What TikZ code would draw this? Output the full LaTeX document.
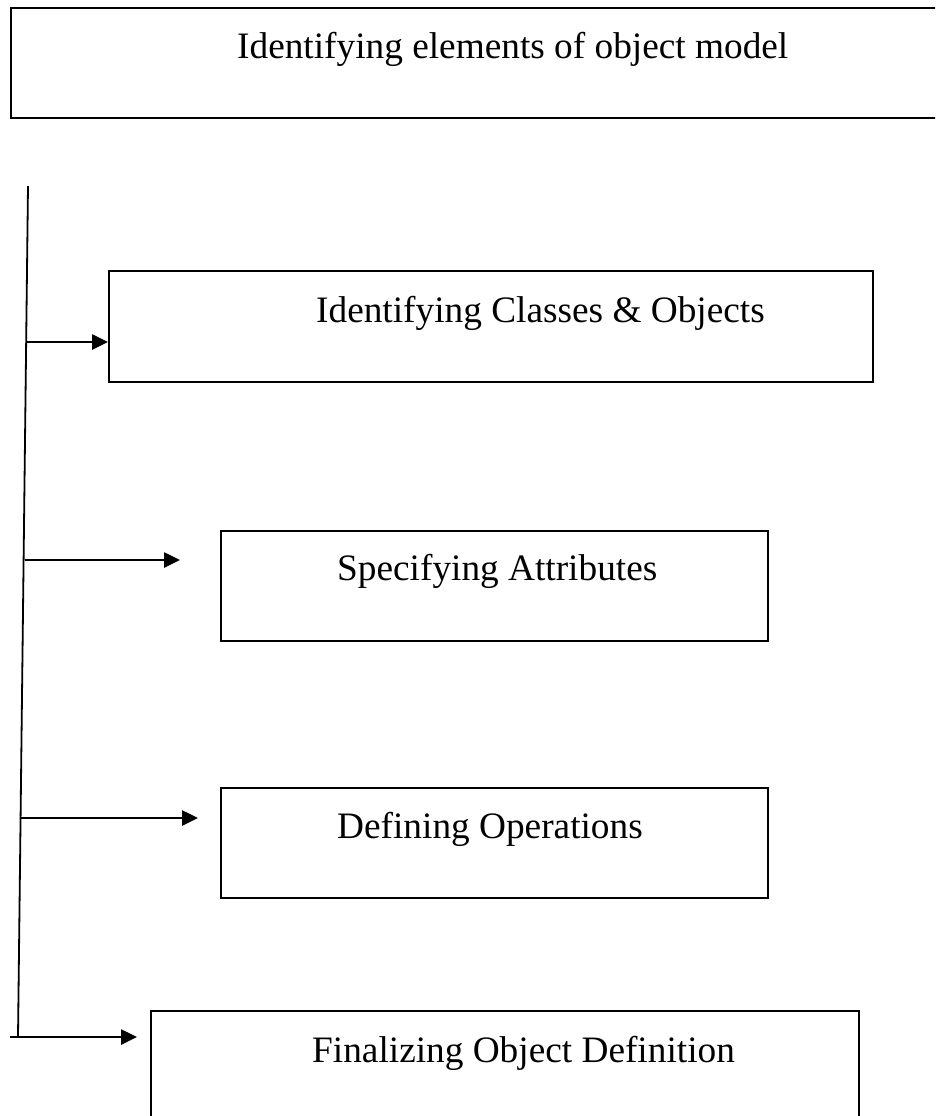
\documentclass[tikz,border=0pt]{standalone}
\usepackage{fontspec}
\setmainfont{Liberation Serif}
\usetikzlibrary{arrows.meta,calc}
\begin{document}
\begin{tikzpicture}[x=1pt,y=-1pt,
  box/.style={draw=black,line width=2pt,rectangle,inner sep=0pt},
  lbl/.style={anchor=base west,inner sep=0pt,font=\fontsize{37.3}{44}\selectfont},
  conn/.style={line width=2.6pt,-{Triangle[length=16pt,width=15pt]}},
  trunk/.style={line width=1.8pt}]
\useasboundingbox (0,0) rectangle (935,1116);
\begin{scope}
\clip (0,0) rectangle (935,1116);
\draw[box] (11,8) rectangle (950,118);
\draw[box] (151,1011) rectangle (859,1140);
\end{scope}
\node[box,anchor=north west,minimum width=764pt,minimum height=111pt] (b2) at (108,270) {};
\node[box,anchor=north west,minimum width=547pt,minimum height=110pt] (b3) at (220,530) {};
\node[box,anchor=north west,minimum width=547pt,minimum height=110pt] (b4) at (220,787) {};
\node[lbl] (t1) at (237,59) {Identifying elements of object model};
\node[lbl] (t2) at (316,322) {Identifying Classes \& Objects};
\node[lbl] (t3) at (337,580) {Specifying Attributes};
\node[lbl] (t4) at (337,838) {Defining Operations};
\node[lbl] (t5) at (312,1062) {Finalizing Object Definition};
\coordinate (top) at (28,186);
\coordinate (bot) at (18,1037);
\draw[trunk] (top) -- (bot);
\coordinate (s2) at (27,342);
\coordinate (s3) at (24.5,560);
\coordinate (s4) at (20,818);
\coordinate (s5) at (10,1037);
\coordinate (e3) at (180,560);
\coordinate (e4) at (198,818);
\coordinate (e5) at (137,1037);
\draw[conn] (s2) -- (b2.west |- s2);
\draw[conn] (s3) -- (e3);
\draw[conn] (s4) -- (e4);
\draw[conn] (s5) -- (e5);
\end{tikzpicture}
\end{document}
